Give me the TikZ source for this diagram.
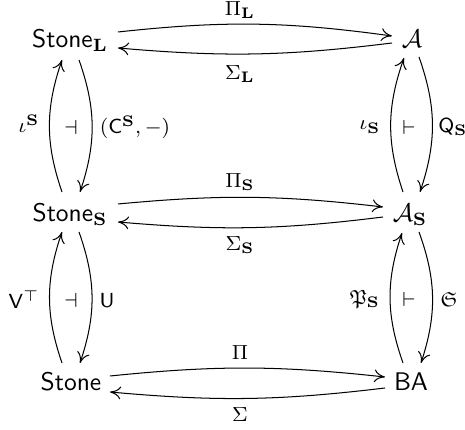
\documentclass[tikz,border=0pt]{standalone}
\usepackage{amsmath,amssymb}
\usetikzlibrary{calc,arrows.meta}
\begin{document}
\begin{tikzpicture}[x=0.3922pt,y=-0.3922pt,
  obj/.style={inner sep=0pt, anchor=base},
  lab/.style={inner sep=0pt, font=\footnotesize},
  arr/.style={-{Computer Modern Rightarrow[length=4.2pt,width=5pt]}, line width=0.4pt}]
\useasboundingbox (0,0) rectangle (465,430);
% objects
\node[obj] (SL) at (70,48) {$\mathsf{Stone}_{\mathbf{L}}$};
\node[obj] (A)  at (412,48) {$\mathcal{A}$};
\node[obj] (SS) at (70,222) {$\mathsf{Stone}_{\mathbf{S}}$};
\node[obj] (AS) at (410,222) {$\mathcal{A}_{\mathbf{S}}$};
\node[obj] (S)  at (71,391) {$\mathsf{Stone}$};
\node[obj] (BA) at (411,391) {$\mathsf{BA}$};
% horizontal arrows
\draw[arr] ($(SL.base)+(48,-16)$) to[bend left=7] ($(A.base)+(-20,-12)$);
\draw[arr] ($(A.base)+(-20,-5)$) to[bend left=6] ($(SL.base)+(48,0)$);
\draw[arr] ($(SS.base)+(48,-18)$) to[bend left=6] ($(AS.base)+(-27,-15)$);
\draw[arr] ($(AS.base)+(-27,-5)$) to[bend left=6] ($(SS.base)+(48,0)$);
\draw[arr] ($(S.base)+(39,-15)$) to[bend left=6] ($(BA.base)+(-26,-14)$);
\draw[arr] ($(BA.base)+(-26,-3)$) to[bend left=6] ($(S.base)+(39,1)$);
% vertical arrows left
\draw[arr] ($(SS.base)+(-8,-30)$) to[bend left=19] ($(SL.base)+(-8,12)$);
\draw[arr] ($(SL.base)+(9,12)$) to[bend left=19] ($(SS.base)+(10,-30)$);
\draw[arr] ($(S.base)+(-9,-28)$) to[bend left=19] ($(SS.base)+(-8,10)$);
\draw[arr] ($(SS.base)+(9,10)$) to[bend left=19] ($(S.base)+(9,-28)$);
% vertical arrows right
\draw[arr] ($(AS.base)+(-7,-30)$) to[bend left=19] ($(A.base)+(-8,10)$);
\draw[arr] ($(A.base)+(7,9)$) to[bend left=19] ($(AS.base)+(10,-30)$);
\draw[arr] ($(BA.base)+(-8,-28)$) to[bend left=19] ($(AS.base)+(-8,11)$);
\draw[arr] ($(AS.base)+(9,10)$) to[bend left=19] ($(BA.base)+(10,-28)$);
% labels
\node[lab] (piL) at (240,10) {$\Pi_{\mathbf{L}}$};
\node[lab] (sigL) at (240,74) {$\Sigma_{\mathbf{L}}$};
\node[lab] (piS) at (240,182) {$\Pi_{\mathbf{S}}$};
\node[lab] (sigS) at (240,245) {$\Sigma_{\mathbf{S}}$};
\node[lab] (pi) at (240,353) {$\Pi$};
\node[lab] (sig) at (240,415) {$\Sigma$};
\node[lab] (iotaU) at (29,124) {$\iota^{\mathbf{S}}$};
\node[lab] (adjA) at (71,127) {$\dashv$};
\node[lab] (CS) at (135,127) {$(\mathsf{C}^{\mathbf{S}},-)$};
\node[lab] (iotaL) at (370,127) {$\iota_{\mathbf{S}}$};
\node[lab] (adjB) at (409,127) {$\vdash$};
\node[lab] (QS) at (453,127) {$\mathsf{Q}_{\mathbf{S}}$};
\node[lab] (VT) at (24,300) {$\mathsf{V}^{\top}$};
\node[lab] (adjC) at (71,300) {$\dashv$};
\node[lab] (U) at (107,300) {$\mathsf{U}$};
\node[lab] (PS) at (365,299) {$\mathfrak{P}_{\mathbf{S}}$};
\node[lab] (adjD) at (409,299) {$\vdash$};
\node[lab] (Sf) at (449,299) {$\mathfrak{S}$};
\end{tikzpicture}
\end{document}
